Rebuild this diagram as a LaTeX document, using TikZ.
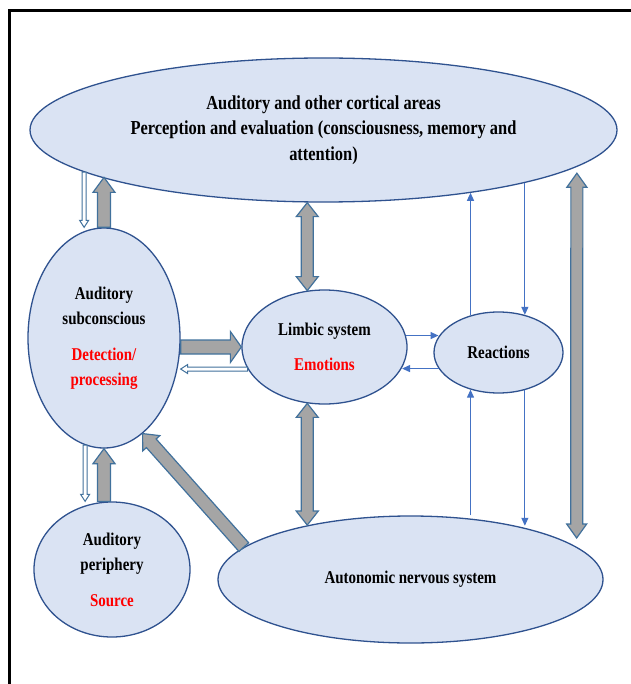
\documentclass[tikz,border=0pt]{standalone}
\usepackage{fontspec}
\setmainfont{Liberation Serif}[FakeStretch=0.83]
\usepackage{tikz}
\usetikzlibrary{shapes,arrows.meta,calc}
\definecolor{ellFill}{HTML}{DAE3F3}
\definecolor{ellLine}{HTML}{2F528F}
\definecolor{arrFill}{HTML}{A5A5A5}
\definecolor{arrLine}{HTML}{41719C}
\definecolor{sigBlue}{HTML}{4472C4}
\definecolor{alarm}{HTML}{FF0000}

% block arrow: style, tail, tip, shaft half-width, head half-width, head length
\newcommand{\blockarrow}[6]{%
  \coordinate (ba-s) at (#2);
  \coordinate (ba-t) at (#3);
  \coordinate (ba-h) at ($(ba-t)!#6!(ba-s)$);
  \draw[#1] ($(ba-s)!#4!90:(ba-t)$) -- ($(ba-h)!#4!90:(ba-t)$)
    -- ($(ba-h)!#5!90:(ba-t)$) -- (ba-t) -- ($(ba-h)!#5!-90:(ba-t)$)
    -- ($(ba-h)!#4!-90:(ba-t)$) -- ($(ba-s)!#4!-90:(ba-t)$) -- cycle;
}
% same with a head at both ends
\newcommand{\blockboth}[6]{%
  \coordinate (ba-s) at (#2);
  \coordinate (ba-t) at (#3);
  \coordinate (ba-h) at ($(ba-t)!#6!(ba-s)$);
  \coordinate (ba-g) at ($(ba-s)!#6!(ba-t)$);
  \draw[#1] (ba-s) -- ($(ba-g)!#5!90:(ba-t)$) -- ($(ba-g)!#4!90:(ba-t)$)
    -- ($(ba-h)!#4!90:(ba-t)$) -- ($(ba-h)!#5!90:(ba-t)$) -- (ba-t)
    -- ($(ba-h)!#5!-90:(ba-t)$) -- ($(ba-h)!#4!-90:(ba-t)$)
    -- ($(ba-g)!#4!-90:(ba-t)$) -- ($(ba-g)!#5!-90:(ba-t)$) -- cycle;
}

\begin{document}
\begin{tikzpicture}[x=1pt,y=-1pt,
    region/.style={ellipse, draw=ellLine, fill=ellFill, line width=1.3pt, inner sep=0pt,
      align=center, font=\fontsize{18}{25.5}\selectfont\bfseries},
    fat/.style={draw=arrLine, fill=arrFill, line width=1.2pt, line join=miter},
    hollow/.style={draw=arrLine, fill=white, line width=1pt, line join=miter},
    signal/.style={-{Triangle[length=8pt,width=7pt]}, draw=sigBlue, line width=1.2pt}
  ]
  \useasboundingbox (0,0) rectangle (630,684);
  \draw[line width=3pt] (9,700) -- (9,10.5) -- (640,10.5);

  % areas
  \node[region, minimum width=587, minimum height=144,
    font=\fontsize{19.8}{25.5}\selectfont\bfseries] (cortex) at (323.5,130)
    {Auditory and other cortical areas\\Perception and evaluation (consciousness, memory and\\attention)};
  \node[region, minimum width=152, minimum height=220] (subcon) at (104,338)
    {Auditory\\subconscious\\[10pt]\textcolor{alarm}{Detection/}\\\textcolor{alarm}{processing}};
  \node[region, minimum width=156, minimum height=135] (periph) at (112,569.5)
    {Auditory\\periphery\\[10pt]\textcolor{alarm}{Source}};
  \node[region, minimum width=165, minimum height=114] (limbic) at (324.5,347)
    {Limbic system\\[10pt]\textcolor{alarm}{Emotions}};
  \node[region, minimum width=129, minimum height=81] (react) at (498.5,352.5) {Reactions};
  \node[region, minimum width=385, minimum height=127] (ans) at (410.5,579.5) {Autonomic nervous system};

  % block arrows
  \blockarrow{fat}{subcon.north}{subcon.north |- cortex.192}{6.5pt}{11pt}{15pt}
  \blockarrow{hollow}{cortex.190}{cortex.190 |- subcon.north}{2pt}{4.5pt}{7pt}
  \blockarrow{fat}{subcon.south |- periph.north}{subcon.south}{6.5pt}{11pt}{15pt}
  \blockarrow{hollow}{subcon.260}{subcon.260 |- periph.north}{2pt}{4.5pt}{7pt}
  \blockarrow{fat}{subcon.east |- limbic.west}{limbic.west}{7pt}{15.5pt}{11pt}
  \blockarrow{hollow}{limbic.196}{limbic.196 -| subcon.east}{2pt}{4.5pt}{7pt}
  \blockarrow{fat}{ans.169}{subcon.292}{6.5pt}{11.5pt}{13pt}
  \blockboth{fat}{limbic.107 |- cortex.south}{limbic.107}{6pt}{11pt}{14pt}
  \blockboth{fat}{limbic.253}{limbic.253 |- ans.152}{6pt}{11pt}{14pt}
  \blockboth{fat}{$(cortex.350)+(14,1)$}{$(ans.east)+(-27,-41.5)$}{6pt}{10pt}{14pt}

  % reactions
  \draw[signal] (react.127) -- (react.127 |- cortex.337);
  \draw[signal] (react.55 |- cortex.345) -- (react.55);
  \draw[signal] (limbic.8) -- (limbic.8 -| react.165);
  \draw[signal] (react.195) -- (react.195 -| limbic.345);
  \draw[signal] (react.233 |- ans.north) -- (react.233);
  \draw[signal] (react.305) -- (react.305 |- ans.27);
\end{tikzpicture}
\end{document}
